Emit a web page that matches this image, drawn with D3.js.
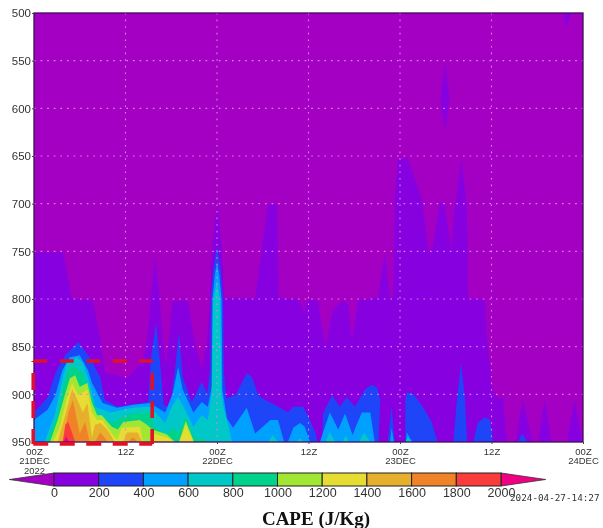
<!DOCTYPE html>
<html>
<head>
<meta charset="utf-8">
<script src="https://cdnjs.cloudflare.com/ajax/libs/d3/7.8.5/d3.min.js"></script>
<style>
  html, body { margin: 0; padding: 0; background: #fff; }
  svg { display: block; filter: blur(0.45px); }
  .tick-label { font-family: "Liberation Sans", sans-serif; fill: #333; }
</style>
</head>
<body>
<svg id="chart" width="603" height="528"></svg>
<script>
// Contour levels of CAPE (J/Kg) and the GrADS style colours
const levels = [0, 200, 400, 600, 800, 1000, 1200, 1400, 1600, 1800, 2000];
const belowColor = "#a400c4";
const levelColors = ["#8600e0", "#1e46f8", "#00a0ff", "#00c8c8", "#00d28c", "#a0e632",
  "#e6dc32", "#e6af2d", "#f08228", "#fa3c3c", "#f00082"];

// Upper edge of each level: [hours since 00Z 21DEC, top hPa, optional base hPa (950 if left out)]
const top0 = [[0,751],[3.8,751],[5,800],[7.7,801],[8.7,843],[9.3,877],[12.3,883],[14.3,864],[14.8,843],[15.3,801],
  [15.9,756],[16.5,801],[16.9,843],[17.3,869],[17.8,833],[18.2,802],[20.2,802],[21,843],[22,874],[22.7,843],
  [23.1,801],[23.3,751],[24,701],[24.7,751],[24.9,799],[29,799],[30.7,701],[31.9,701],[32.1,799],[34.9,801],
  [35.4,814],[35.9,801],[37.2,801],[38.2,850],[39.2,812],[40.5,801],[41.2,806],[41.7,846],[42.5,801],[45.1,799],
  [46,752],[46.7,799],[47.1,799],[47.3,696],[47.7,654],[49,652],[50.9,696],[51.7,751],[52.3,745],[53.2,699],
  [53.8,699],[54.8,749],[55.1,710],[56,654],[56.7,696],[56.9,749],[56.9,799],[59.1,801],[59.5,848],[60.1,895],
  [60.8,904],[61.5,903],[62,950],[63.1,950],[64.1,906],[65.4,950],[66.1,950],[67,906],[67.9,950],[69.9,950],
  [70.9,906],[71.9,950]];
const island600 = [[53.3,590,590],[53.9,552,623],[54.5,590,590]];
const islandTop = [[69.4,500,500],[69.9,500,515],[70.4,500,500]];
const top200 = [[0,919],[1.8,903],[2.8,878],[4.1,859],[5.8,845],[7.3,861],[8.7,882],[9.3,906],[10.9,913],[13,911],
  [15,908],[15.3,864],[16,825],[16.5,864],[17,911],[17.8,914],[18.5,874],[19,835],[19.5,882],[20.7,908],
  [22,887],[22.7,899],[23.1,874],[23.2,801],[23.5,770],[24,745],[24.5,770],[24.8,801],[24.9,874],[25.2,904],[26.4,901],[27.9,878],
  [28.6,882],[29.4,901],[30.3,906],[31.6,911],[33.3,919],[34,913],[35.3,913],[35.9,922],[36.9,940],[37.2,950],
  [37.8,950],[37.9,920],[39.1,901],[40.1,913],[41,903],[42.1,913],[43.4,895],[44.3,890],[45,893],[45.4,906],
  [45.2,950],[46.4,950],[46.9,913],[47.3,950],[48.7,950],[48.7,906],[48.9,898],[49.7,899],[51,913],[52.2,930],
  [52.9,950],[55,950],[55.5,903],[56,867],[56.5,903],[56.8,950],[57.6,950],[58.2,930],[59.1,924],[59.8,927],
  [60.2,950],[63.5,950],[64,941],[64.7,950]];
const top400 = [[0,927],[1.8,916],[2.8,901],[3.7,875],[4.7,861],[6,859],[7.1,875],[7.6,888],[9,909],[10.9,914],
  [13,911],[15.2,909],[17.2,919],[18.2,899],[18.9,871],[19.5,895],[20.9,919],[22,908],[22.8,913],[23.3,892],
  [23.4,801],[23.7,775],[24,762],[24.3,775],[24.6,801],[24.7,895],[25.3,925],[26.1,935],[27.9,914],[29,941],[31,927],[32,927],
  [32.8,950],[33.3,950],[34,935],[34.9,930],[35.5,934],[36.2,950],[37.5,950],[37.9,940],[38.8,919],[39.9,937],
  [40.8,920],[41.8,943],[42.2,934],[43,919],[44.1,919],[44.7,950],[46.7,950],[46.9,935],[47.2,950],[48.8,950],
  [48.9,940],[49.6,950]];
const top600 = [[1.4,950],[2.8,919],[3.7,885],[4.3,867],[5.6,861],[6.4,867],[7.3,888],[8,913],[10,919],[13,914],
  [15.2,913],[17.2,930],[18.2,911],[18.9,903],[19.8,916],[20.9,934],[22,922],[22.8,927],[23.3,900],[23.5,801],
  [24,780],[24.4,801],[24.6,900],[24.9,915],[26,950],[30.7,950],[31.3,943],[32,950],[34.4,950],[34.9,946],
  [35.4,950],[38.2,950],[38.8,940],[39.5,950],[40.5,950],[40.9,943],[41.3,950],[42.6,950],[43.3,940],[44.1,950],
  [48.7,950],[49,945],[49.6,950]];
const top800 = [[1.7,950],[3,924],[3.8,892],[4.5,875],[5.1,869],[6.4,878],[7.6,903],[8.4,922],[10.2,930],[11.5,924],
  [13,920],[15.2,919],[15.6,932],[17.2,943],[18.2,935],[18.9,940],[19.9,924],[21.1,946],[22,946],[22.8,950]];
const top1000 = [[2.1,950],[3.1,927],[4.1,899],[4.7,883],[5.4,880],[6,892],[7,888],[7.6,909],[8.3,922],[8.9,922],
  [10.2,934],[11,937],[11.7,929],[13.9,927],[14.8,932],[15.5,937],[17.4,942],[18.5,950],[19,950],[19.9,928],[21,950]];
const top1200 = [[2.5,950],[3.4,934],[4.3,904],[5,888],[5.8,901],[7,895],[7.6,919],[8.3,927],[9,927],[10.2,941],
  [10.9,948],[11.5,935],[13.9,934],[14.3,950],[15.2,950],[15.6,941],[17.4,945],[18.5,950],[19.1,950],[19.9,932],[20.9,950]];
const top1400 = [[3.1,950],[4.3,916],[5,895],[5.6,904],[6.4,919],[7,909],[7.6,945],[8,932],[8.7,930],[9.6,937],
  [10.6,950],[11.7,950],[12.2,940],[13.6,940],[14.2,950]];
const top1600 = [[3.7,950],[4.5,920],[5.1,906],[6,941],[6.7,929],[7.3,950],[8,950],[8.7,940],[9.7,950],[12.3,950],
  [13,945],[13.6,950]];
const top1800 = [[3.8,950],[4.1,932],[4.5,929],[5.4,950]];
const top2000 = [[3.9,950],[4.2,944],[4.6,950]];

// One entry per filled patch, lowest level first
const patches = [
  { level: 0, edge: top0 }, { level: 0, edge: island600 }, { level: 0, edge: islandTop },
  { level: 200, edge: top200 }, { level: 400, edge: top400 }, { level: 600, edge: top600 },
  { level: 800, edge: top800 }, { level: 1000, edge: top1000 }, { level: 1200, edge: top1200 },
  { level: 1400, edge: top1400 }, { level: 1600, edge: top1600 }, { level: 1800, edge: top1800 },
  { level: 2000, edge: top2000 },
];

// Axis ticks
const pressureTicks = [500, 550, 600, 650, 700, 750, 800, 850, 900, 950];
const timeTicks = [0, 12, 24, 36, 48, 60, 72];
const timeLabels = [["00Z", "21DEC", "2022"], ["12Z"], ["00Z", "22DEC"], ["12Z"], ["00Z", "23DEC"], ["12Z"], ["00Z", "24DEC"]];

// Red box marking the event window: hours and hPa
const boxHours = [-0.1, 15.5];
const boxPressure = [865, 952];

const xScale = d3.scaleLinear().domain([0, 72]).range([34, 583]);
const yScale = d3.scaleLinear().domain([500, 950]).range([13, 442]);
const colorScale = d3.scaleOrdinal().domain(levels).range(levelColors);
const barScale = d3.scaleLinear().domain([0, 2000]).range([54, 501]);

const svg = d3.select("#chart");

// Background is the "below 0" colour
svg.append("rect")
  .attr("x", xScale(0)).attr("y", yScale(500))
  .attr("width", xScale(72) - xScale(0)).attr("height", yScale(950) - yScale(500))
  .attr("fill", belowColor);

const area = d3.area()
  .x((d) => xScale(d[0]))
  .y1((d) => yScale(d[1]))
  .y0((d) => yScale(d.length > 2 ? d[2] : 950));

svg.append("g").selectAll("path")
  .data(patches)
  .join("path")
  .attr("d", (d) => area(d.edge))
  .attr("fill", (d) => colorScale(d.level));

// Dotted grid
const grid = svg.append("g")
  .attr("fill", "none")
  .attr("stroke", "#de80ee")
  .attr("stroke-width", 1.1)
  .attr("stroke-dasharray", "1.6,5");
grid.selectAll(".h")
  .data(pressureTicks.slice(1, -1))
  .join("line").attr("class", "h")
  .attr("x1", xScale(0)).attr("x2", xScale(72))
  .attr("y1", (d) => yScale(d)).attr("y2", (d) => yScale(d));
grid.selectAll(".v")
  .data(timeTicks.slice(1, -1))
  .join("line").attr("class", "v")
  .attr("y1", yScale(500)).attr("y2", yScale(950))
  .attr("x1", (d) => xScale(d)).attr("x2", (d) => xScale(d));

// Frame
svg.append("rect")
  .attr("x", xScale(0)).attr("y", yScale(500))
  .attr("width", xScale(72) - xScale(0)).attr("height", yScale(950) - yScale(500))
  .attr("fill", "none").attr("stroke", "#3c0f58").attr("stroke-width", 1.3);

// Y axis
const yAxis = svg.append("g")
  .attr("transform", `translate(${xScale(0)},0)`)
  .call(d3.axisLeft(yScale).tickValues(pressureTicks).tickSize(2).tickPadding(1));
yAxis.select(".domain").remove();
yAxis.selectAll("line").attr("stroke", "#444");
yAxis.selectAll("text").attr("class", "tick-label").attr("font-size", 11.5).attr("font-family", null).attr("fill", null);

// X axis, labels stacked over up to three lines
const xAxis = svg.append("g")
  .attr("transform", `translate(0,${yScale(950)})`)
  .call(d3.axisBottom(xScale).tickValues(timeTicks).tickSize(2).tickFormat(""));
xAxis.select(".domain").remove();
xAxis.selectAll("line").attr("stroke", "#444");
xAxis.selectAll(".tick text")
  .attr("class", "tick-label")
  .attr("font-size", 9.5).attr("font-family", null).attr("fill", null)
  .attr("y", 0).attr("dy", null)
  .each(function (d, i) {
    d3.select(this).selectAll("tspan")
      .data(timeLabels[i])
      .join("tspan")
      .attr("x", 0)
      .attr("y", (t, j) => 12.5 + j * 9.8)
      .text((t) => t);
  });

// Red dashed box, each side drawn on its own like the hand marked original
const boxX0 = xScale(boxHours[0]), boxX1 = xScale(boxHours[1]);
const boxY0 = yScale(boxPressure[0]), boxY1 = yScale(boxPressure[1]);
const boxSides = [
  { x1: boxX0, x2: boxX1, y1: boxY0, y2: boxY0, dash: "14,12.5", offset: 0 },
  { x1: boxX0, x2: boxX1, y1: boxY1, y2: boxY1, dash: "15,11.5", offset: 0 },
  { x1: boxX0, x2: boxX0, y1: boxY0, y2: boxY1, dash: "17,11", offset: -12 },
  { x1: boxX1, x2: boxX1, y1: boxY0, y2: boxY1, dash: "17,11", offset: -12 },
];
svg.append("g").selectAll("line")
  .data(boxSides)
  .join("line")
  .attr("x1", (d) => d.x1).attr("x2", (d) => d.x2)
  .attr("y1", (d) => d.y1).attr("y2", (d) => d.y2)
  .attr("stroke", "#e0102a")
  .attr("stroke-width", 3.6)
  .attr("stroke-dasharray", (d) => d.dash)
  .attr("stroke-dashoffset", (d) => d.offset);

// Colour bar with pointed ends
const barTop = 473, barBottom = 486, barMid = (barTop + barBottom) / 2;
const bar = svg.append("g");
bar.append("path")
  .attr("d", d3.line()([[barScale(-200), barMid], [barScale(0), barTop], [barScale(0), barBottom]]) + "Z")
  .attr("fill", belowColor).attr("stroke", "#333").attr("stroke-width", 0.8);
bar.append("path")
  .attr("d", d3.line()([[barScale(2200), barMid], [barScale(2000), barTop], [barScale(2000), barBottom]]) + "Z")
  .attr("fill", colorScale(2000)).attr("stroke", "#333").attr("stroke-width", 0.8);
bar.selectAll("rect")
  .data(levels.slice(0, -1))
  .join("rect")
  .attr("x", (d) => barScale(d))
  .attr("y", barTop)
  .attr("width", (d) => barScale(d + 200) - barScale(d))
  .attr("height", barBottom - barTop)
  .attr("fill", (d) => colorScale(d))
  .attr("stroke", "#222")
  .attr("stroke-width", 1);

const barAxis = svg.append("g")
  .attr("transform", `translate(0,${barBottom})`)
  .call(d3.axisBottom(barScale).tickValues(levels).tickSize(0).tickPadding(2).tickFormat(d3.format("d")));
barAxis.select(".domain").remove();
barAxis.selectAll("text").attr("class", "tick-label").attr("font-size", 12.5).attr("font-family", null).attr("fill", null);

// Time stamp and title
svg.append("text")
  .attr("x", 510).attr("y", 501)
  .attr("font-family", "'DejaVu Sans Mono', monospace")
  .attr("font-size", 9.3)
  .attr("fill", "#333")
  .text("2024-04-27-14:27");

svg.append("text")
  .attr("x", 316).attr("y", 525)
  .attr("text-anchor", "middle")
  .attr("font-family", "'Liberation Serif', serif")
  .attr("font-weight", "bold")
  .attr("font-size", 19)
  .attr("fill", "#111")
  .text("CAPE (J/Kg)");
</script>
</body>
</html>
